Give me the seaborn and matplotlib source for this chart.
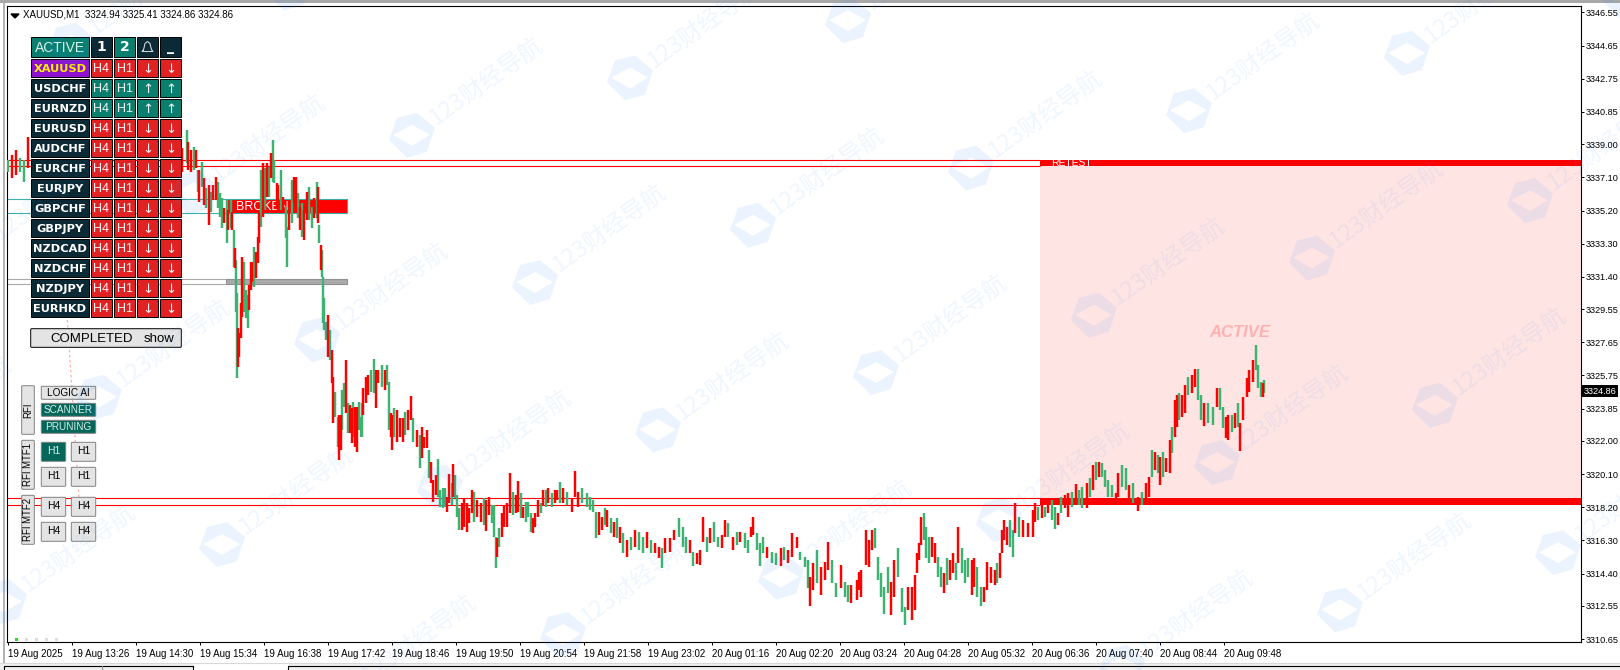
import matplotlib
matplotlib.use("Agg")
import matplotlib.pyplot as plt
from matplotlib.patches import Rectangle, FancyBboxPatch, PathPatch
from matplotlib.path import Path
import pandas as pd
import seaborn as sns

# minutes since the left edge of the chart, candle high / low, candle direction
bar_idx = [
    1, 5, 9, 13, 17, 21,
    175, 180, 181, 184, 187, 189, 191, 192, 195, 197,
    199, 202, 204, 206, 209, 211, 213, 215, 217, 220,
    221, 224, 225, 227, 228, 229, 230, 231, 232, 234,
    235, 237, 239, 241, 242, 244, 245, 247, 249, 251,
    252, 254, 256, 258, 260, 262, 264, 266, 267, 270,
    271, 274, 276, 279, 280, 282, 285, 287, 289, 291,
    293, 295, 297, 300, 302, 305, 307, 310, 311, 312,
    314, 315, 316, 317, 319, 321, 323, 325, 326, 328,
    331, 332, 334, 335, 337, 339, 341, 343, 345, 346,
    348, 350, 352, 354, 355, 356, 359, 361, 364, 367,
    369, 371, 375, 378, 380, 382, 384, 385, 387, 390,
    393, 396, 398, 401, 404, 406, 410, 413, 415, 417,
    420, 422, 424, 426, 429, 431, 433, 436, 438, 440,
    442, 445, 446, 448, 450, 452, 455, 457, 460, 462,
    465, 467, 470, 474, 477, 479, 482, 485, 487, 489,
    490, 492, 495, 497, 500, 503, 506, 509, 511, 514,
    516, 519, 521, 524, 526, 528, 531, 534, 536, 539,
    541, 545, 548, 550, 553, 556, 560, 565, 568, 571,
    575, 580, 583, 586, 589, 592, 595, 598, 600, 604,
    607, 610, 613, 616, 620, 624, 628, 632, 636, 640,
    644, 648, 652, 655, 658, 663, 667, 672, 676, 679,
    683, 686, 690, 693, 696, 700, 703, 707, 711, 715,
    718, 721, 726, 730, 733, 738, 741, 744, 746, 750,
    753, 756, 760, 765, 769, 774, 777, 781, 785, 790,
    793, 798, 801, 803, 806, 810, 814, 818, 821, 825,
    829, 834, 838, 841, 844, 850, 852, 854, 859, 862,
    865, 868, 871, 874, 877, 881, 884, 887, 891, 895,
    898, 901, 905, 908, 910, 912, 914, 917, 919, 922,
    925, 928, 931, 934, 937, 940, 943, 946, 949, 951,
    955, 958, 961, 965, 967, 970, 974, 977, 980, 984,
    988, 990, 993, 995, 997, 1000, 1003, 1006, 1008, 1012,
    1016, 1021, 1026, 1028, 1031, 1035, 1038, 1041, 1045, 1048,
    1051, 1054, 1058, 1061, 1065, 1069, 1072, 1075, 1080, 1083,
    1086, 1089, 1092, 1095, 1098, 1101, 1105, 1109, 1111, 1115,
    1119, 1122, 1126, 1131, 1135, 1139, 1142, 1145, 1148, 1151,
    1153, 1156, 1159, 1163, 1165, 1168, 1170, 1172, 1175, 1178,
    1181, 1185, 1188, 1191, 1194, 1197, 1201, 1206, 1210, 1213,
    1216, 1219, 1221, 1225, 1228, 1231, 1233, 1236, 1240, 1242,
    1246, 1249, 1251, 1254, 1256, 1257,
]
highs = [
    3338.10, 3338.39, 3338.67, 3338.22, 3338.10, 3339.42,
    3338.79, 3339.82, 3339.13, 3338.68, 3338.85, 3338.68, 3337.53, 3337.53, 3337.99, 3337.07,
    3336.50, 3336.67, 3336.27, 3336.67, 3337.13, 3336.84, 3336.21, 3335.92, 3335.35, 3335.81,
    3335.24, 3335.81, 3335.12, 3334.09, 3333.06, 3332.37, 3330.48, 3328.48, 3328.19, 3329.91,
    3332.54, 3332.26, 3330.65, 3330.37, 3330.94, 3332.26, 3332.26, 3333.12, 3332.83, 3333.69,
    3335.07, 3337.53, 3337.93, 3337.64, 3337.93, 3337.70, 3338.50, 3339.25, 3338.10, 3336.78,
    3336.67, 3337.53, 3335.98, 3335.41, 3334.26, 3335.07, 3336.95, 3337.13, 3337.13, 3336.21,
    3335.41, 3335.64, 3335.24, 3336.27, 3336.55, 3335.41, 3335.92, 3336.84, 3336.55, 3334.38,
    3333.23, 3332.95, 3331.40, 3330.19, 3328.82, 3329.22, 3328.36, 3327.22, 3325.67, 3324.81,
    3323.38, 3323.49, 3323.49, 3324.92, 3325.32, 3326.64, 3324.18, 3324.06, 3323.89, 3324.23,
    3323.95, 3323.95, 3324.23, 3323.38, 3324.18, 3325.04, 3325.67, 3325.78, 3326.07, 3326.70,
    3326.07, 3326.07, 3326.36, 3326.07, 3326.36, 3325.38, 3323.60, 3323.49, 3323.89, 3323.78,
    3323.32, 3323.32, 3323.66, 3323.78, 3324.58, 3323.32, 3322.63, 3322.34, 3322.80, 3322.23,
    3322.63, 3321.49, 3320.80, 3319.77, 3320.05, 3320.97, 3319.19, 3319.31, 3319.31, 3318.79,
    3320.11, 3319.59, 3320.68, 3320.05, 3318.91, 3318.16, 3318.45, 3318.73, 3318.45, 3318.16,
    3319.19, 3319.08, 3318.62, 3318.45, 3318.73, 3318.62, 3318.79, 3318.33, 3318.33, 3316.50,
    3316.44, 3317.01, 3317.87, 3318.33, 3318.45, 3320.17, 3319.08, 3318.91, 3319.71, 3319.02,
    3318.22, 3318.51, 3318.51, 3317.87, 3317.59, 3317.87, 3318.62, 3318.45, 3319.19, 3319.19,
    3319.31, 3319.02, 3319.19, 3319.19, 3319.65, 3319.31, 3319.08, 3318.73, 3320.28, 3319.08,
    3319.31, 3319.02, 3318.79, 3318.62, 3317.93, 3317.93, 3317.65, 3318.16, 3318.05, 3317.59,
    3317.36, 3317.59, 3317.07, 3316.73, 3316.33, 3316.50, 3316.90, 3316.79, 3316.50, 3316.79,
    3316.33, 3316.16, 3315.93, 3315.87, 3316.44, 3316.44, 3316.90, 3317.59, 3317.07, 3316.50,
    3316.33, 3315.64, 3315.58, 3315.76, 3317.65, 3316.50, 3317.01, 3317.36, 3316.50, 3316.61,
    3317.47, 3317.30, 3316.50, 3316.79, 3316.79, 3316.73, 3316.33, 3317.07, 3317.65, 3316.73,
    3316.16, 3316.50, 3315.93, 3315.64, 3315.58, 3315.87, 3315.93, 3315.76, 3316.73, 3316.50,
    3315.64, 3315.35, 3315.18, 3314.21, 3315.01, 3315.76, 3314.78, 3315.07, 3316.21, 3315.18,
    3313.86, 3314.90, 3313.92, 3313.75, 3313.75, 3314.04, 3314.49, 3314.61, 3316.90, 3316.33,
    3316.90, 3317.01, 3315.35, 3314.44, 3313.63, 3314.78, 3313.92, 3315.18, 3315.87, 3313.58,
    3312.49, 3313.63, 3313.63, 3314.32, 3315.58, 3316.16, 3317.65, 3317.87, 3317.07, 3316.50,
    3316.50, 3316.16, 3315.35, 3314.78, 3314.44, 3315.30, 3315.18, 3315.58, 3315.01, 3317.07,
    3315.87, 3315.18, 3315.30, 3315.18, 3315.30, 3314.78, 3313.63, 3313.63, 3315.07, 3314.78,
    3314.61, 3315.01, 3315.58, 3316.90, 3317.47, 3317.07, 3317.47, 3316.90, 3318.45, 3317.65,
    3317.47, 3317.30, 3318.05, 3318.45, 3318.22, 3318.45, 3318.22, 3318.62, 3318.62, 3318.22,
    3317.87, 3318.79, 3318.91, 3319.02, 3319.08, 3319.54, 3319.19, 3319.36, 3319.59, 3319.88,
    3320.63, 3320.80, 3320.80, 3320.74, 3320.34, 3319.77, 3319.48, 3319.02, 3320.17, 3320.63,
    3320.45, 3319.48, 3319.59, 3318.79, 3319.08, 3319.59, 3319.94, 3321.49, 3321.37, 3321.20,
    3321.08, 3321.37, 3321.03, 3322.06, 3322.80, 3324.35, 3324.64, 3324.75, 3324.64, 3325.21,
    3325.67, 3325.78, 3326.13, 3326.13, 3324.64, 3324.18, 3324.18, 3323.95, 3325.04, 3325.04,
    3323.95, 3323.38, 3323.49, 3323.49, 3323.60, 3324.18, 3323.03, 3324.52, 3325.61, 3326.07,
    3326.64, 3327.50, 3326.36, 3325.38, 3325.32, 3325.49,
]
lows = [
    3337.41, 3337.07, 3337.24, 3337.41, 3336.84, 3337.64,
    3337.41, 3337.93, 3337.53, 3337.41, 3337.53, 3337.64, 3336.27, 3335.69, 3336.55, 3335.52,
    3335.35, 3334.38, 3335.12, 3335.81, 3335.81, 3335.35, 3334.84, 3334.21, 3334.49, 3333.35,
    3334.09, 3334.21, 3334.09, 3331.97, 3331.91, 3329.39, 3325.61, 3326.24, 3326.81, 3327.90,
    3329.11, 3329.39, 3329.05, 3328.48, 3329.51, 3330.65, 3331.11, 3330.83, 3331.34, 3332.20,
    3333.35, 3334.26, 3334.84, 3335.24, 3335.98, 3335.98, 3337.07, 3336.84, 3336.78, 3335.41,
    3335.07, 3335.24, 3335.07, 3333.63, 3331.97, 3334.09, 3334.49, 3335.64, 3335.07, 3334.78,
    3334.09, 3333.69, 3333.52, 3334.66, 3334.66, 3334.21, 3334.78, 3334.78, 3334.49, 3333.35,
    3331.80, 3331.40, 3328.76, 3328.36, 3327.79, 3326.81, 3326.64, 3325.32, 3323.03, 3323.38,
    3321.66, 3320.91, 3321.49, 3322.63, 3323.95, 3323.60, 3322.46, 3322.46, 3321.89, 3322.23,
    3321.66, 3321.37, 3322.63, 3322.23, 3322.23, 3323.49, 3324.18, 3324.64, 3324.81, 3324.75,
    3323.89, 3325.32, 3325.09, 3324.92, 3325.21, 3322.63, 3322.23, 3321.49, 3322.23, 3321.94,
    3322.23, 3321.94, 3322.34, 3322.63, 3323.20, 3321.94, 3321.66, 3320.45, 3321.03, 3321.60,
    3321.60, 3319.88, 3319.59, 3318.51, 3318.91, 3318.79, 3318.22, 3318.16, 3318.22, 3317.93,
    3318.45, 3318.33, 3318.79, 3318.73, 3317.65, 3316.90, 3316.90, 3317.07, 3316.79, 3317.30,
    3317.87, 3317.36, 3317.65, 3317.36, 3317.19, 3316.84, 3317.76, 3317.30, 3316.50, 3314.72,
    3315.35, 3315.93, 3316.50, 3317.07, 3317.07, 3317.87, 3317.76, 3317.87, 3317.93, 3317.59,
    3317.59, 3317.36, 3317.65, 3316.79, 3316.73, 3317.07, 3317.65, 3317.87, 3318.33, 3318.22,
    3318.45, 3318.22, 3318.45, 3318.62, 3318.45, 3318.45, 3318.33, 3317.93, 3318.79, 3318.22,
    3318.45, 3318.22, 3318.05, 3317.93, 3316.44, 3316.61, 3316.90, 3317.19, 3317.07, 3316.73,
    3316.50, 3316.44, 3316.16, 3315.58, 3315.35, 3315.76, 3315.93, 3315.76, 3315.58, 3315.87,
    3315.58, 3315.58, 3315.30, 3314.72, 3315.58, 3315.64, 3316.33, 3316.50, 3315.93, 3315.58,
    3315.58, 3314.84, 3314.95, 3314.90, 3316.21, 3315.64, 3316.16, 3316.21, 3315.93, 3315.87,
    3316.50, 3316.50, 3315.76, 3316.04, 3316.21, 3315.87, 3315.58, 3316.50, 3316.61, 3315.76,
    3314.84, 3315.58, 3315.30, 3315.01, 3314.90, 3314.84, 3315.18, 3315.01, 3315.35, 3315.87,
    3315.18, 3314.78, 3313.58, 3312.55, 3313.46, 3313.86, 3313.18, 3314.04, 3314.61, 3313.86,
    3313.06, 3313.58, 3313.06, 3312.77, 3312.72, 3312.89, 3313.46, 3313.06, 3314.90, 3314.78,
    3315.76, 3315.87, 3314.04, 3313.06, 3312.09, 3313.29, 3312.03, 3313.06, 3314.21, 3312.20,
    3311.46, 3312.32, 3311.74, 3312.32, 3314.44, 3315.18, 3316.04, 3316.33, 3315.30, 3315.01,
    3315.35, 3315.01, 3314.21, 3313.63, 3313.29, 3313.75, 3314.04, 3314.44, 3314.04, 3315.01,
    3314.44, 3313.86, 3314.21, 3313.18, 3313.63, 3313.06, 3312.55, 3312.77, 3313.46, 3313.86,
    3313.75, 3313.86, 3314.15, 3315.58, 3316.33, 3316.04, 3315.93, 3315.35, 3316.73, 3316.50,
    3316.50, 3316.50, 3316.50, 3317.36, 3317.47, 3317.59, 3317.65, 3317.87, 3317.47, 3316.96,
    3317.19, 3317.87, 3318.16, 3317.65, 3318.22, 3318.45, 3318.33, 3318.16, 3318.16, 3318.79,
    3319.19, 3319.77, 3319.94, 3319.94, 3319.36, 3318.79, 3318.79, 3318.51, 3318.79, 3319.36,
    3319.19, 3318.62, 3318.45, 3317.99, 3318.33, 3318.33, 3318.79, 3319.94, 3320.34, 3320.17,
    3319.48, 3319.94, 3320.23, 3320.17, 3321.31, 3322.23, 3322.80, 3323.20, 3323.38, 3323.60,
    3324.64, 3324.75, 3325.09, 3324.35, 3323.20, 3322.86, 3323.03, 3322.92, 3323.95, 3323.78,
    3322.75, 3322.17, 3322.06, 3322.52, 3322.75, 3322.80, 3321.43, 3323.20, 3324.52, 3324.81,
    3325.38, 3326.07, 3325.04, 3324.52, 3324.52, 3324.75,
]
directions = list(
    "grrggr"
    "rgrrgrgrgr" "grgrrgggrg" "rgrgrggrrr" "rgggrrrgrr" "rgrgrgrggr"
    "rgrggrgrrg" "rgrrggrgrg" "rggggrgrrg" "grrggrgrrg" "rrgggrrrgg"
    "rrgrggrrgr" "rrgrrgrgrr" "rgrrrggggr" "rgrgggrrrr" "rgrrgrrggg"
    "rgrrrrgrrg" "rgggrrrgrg" "rgrrgrgrrr" "gggggrrgrg" "rgrgrgrggr"
    "grrgrrrggg" "rgrrrgrggr" "rgrgrggrrg" "ggrggrgrrr" "gggrrgrrrg"
    "grggrrrrrr" "rgggggrrgg" "grrrrrrggg" "rrggrgrrgr" "gggrrggrrr"
    "rgrrrrggrg" "rrrrgrgrgg" "rgrrgrggrg" "rgrggggrrg" "grgrgrrgrg"
    "rgrrgrrgrr" "grrggrggrg" "grrgrgrrrr"
    "rgggrg"
)

x_ticks = [1, 65, 129, 193, 257, 321, 385, 449, 513, 577,
           641, 705, 769, 833, 897, 961, 1025, 1089, 1153, 1217]
x_tick_labels = ["19 Aug 2025", "19 Aug 13:26", "19 Aug 14:30", "19 Aug 15:34", "19 Aug 16:38",
                 "19 Aug 17:42", "19 Aug 18:46", "19 Aug 19:50", "19 Aug 20:54", "19 Aug 21:58",
                 "19 Aug 23:02", "20 Aug 01:16", "20 Aug 02:20", "20 Aug 03:24", "20 Aug 04:28",
                 "20 Aug 05:32", "20 Aug 06:36", "20 Aug 07:40", "20 Aug 08:44", "20 Aug 09:48"]
y_ticks = [3346.55, 3344.65, 3342.75, 3340.85, 3339.00, 3337.10, 3335.20, 3333.30, 3331.40, 3329.55,
           3327.65, 3325.75, 3323.85, 3322.00, 3320.10, 3318.20, 3316.30, 3314.40, 3312.55, 3310.65]

ohlc_text = "XAUUSD,M1  3324.94 3325.41 3324.86 3324.86"
last_price = 3324.86

# price levels of the indicator boxes
retest_top = (3337.73, 3338.10)
retest_bottom = (3318.33, 3318.73)
broken_box = (3335.07, 3335.84)
grey_box = (3330.97, 3331.26)

# dashboard text
symbols = ["XAUUSD", "USDCHF", "EURNZD", "EURUSD", "AUDCHF", "EURCHF", "EURJPY",
           "GBPCHF", "GBPJPY", "NZDCAD", "NZDCHF", "NZDJPY", "EURHKD"]
symbol_up = [False, True, True, False, False, False, False,
             False, False, False, False, False, False]

RED = "#ff0000"
GREEN = "#3cb371"
CELL_RED = "#e22222"
TEAL = "#0a7f6e"
DARK_TEAL = "#05665a"
NAVY = "#0b2a35"
BTN = "#e4e4e4"
SANS = "Liberation Sans"

sns.set_style("white")
plt.rcParams["font.family"] = ["Liberation Sans", "DejaVu Sans"]

fig = plt.figure(figsize=(16.2, 6.7), dpi=100)
ax = fig.add_axes([7 / 1620, 28 / 670, 1574 / 1620, 636 / 670], zorder=1)
ax.set_xlim(0, 1574)
ax.set_ylim(3310.48, 3346.92)


def band(x0, x1, levels, **kw):
    ax.add_patch(Rectangle((x0, levels[0]), x1 - x0, levels[1] - levels[0], **kw))


# zone + level lines (behind the candles)
band(1033, 1574, (retest_bottom[1], retest_top[0]), facecolor="#ffe4e4", edgecolor="none", zorder=1)
band(1033, 1574, retest_top, facecolor=RED, edgecolor="none", zorder=1.5)
band(1033, 1574, retest_bottom, facecolor=RED, edgecolor="none", zorder=1.5)
for levels in (retest_top, retest_bottom):
    ax.hlines(levels, 0, 1033, color=RED, lw=0.8, zorder=1.5)
ax.hlines(broken_box, 0, 219, color="#3fb0b0", lw=0.8, zorder=1.5)
ax.hlines(grey_box, 0, 219, color="#aaaaaa", lw=0.8, zorder=1.5)
band(219, 339.5, broken_box, facecolor=RED, edgecolor="#3fa8a8", lw=0.8, zorder=1.6)
band(219, 339.5, grey_box, facecolor="#aaaaaa", edgecolor="#909090", lw=0.8, zorder=1.6)
ax.text(229, sum(broken_box) / 2 - 0.06, "BROKEN", color="white", fontsize=9, va="center", ha="left", zorder=1.7)
ax.text(1044, sum(retest_top) / 2, "RETEST", color="white", fontsize=7.5, va="center", ha="left", zorder=1.7)
ax.text(1202, 3328.2, "ACTIVE", color="#ffb0b0", fontsize=12, style="italic", weight="bold",
        va="center", ha="left", zorder=1.7)

# candles: one vertical line per bar, drawn by seaborn
candles = pd.DataFrame({"bar": bar_idx, "high": highs, "low": lows, "dir": directions})
long_df = candles.melt(id_vars=["bar", "dir"], value_vars=["high", "low"], value_name="price")
sns.lineplot(data=long_df, x="bar", y="price", hue="dir", units="bar", estimator=None,
             palette={"r": RED, "g": GREEN}, linewidth=1.75, legend=False, ax=ax, zorder=3,
             solid_capstyle="butt")

# axes furniture
ax.set_xlabel("")
ax.set_ylabel("")
ax.yaxis.tick_right()
ax.set_xticks(x_ticks)
ax.set_xticklabels(x_tick_labels, ha="left", fontsize=7)
ax.set_yticks(y_ticks)
ax.set_yticklabels([f"{v:.2f}" for v in y_ticks], fontsize=6.6)
ax.tick_params(axis="x", length=2.2, width=0.7, pad=3, color="black", labelcolor="black", bottom=True)
ax.tick_params(axis="y", length=2.2, width=0.7, pad=1.5, color="black", labelcolor="black", right=True)
for sp in ax.spines.values():
    sp.set_color("black")
    sp.set_linewidth(0.8)
ax.text(1.0015, last_price, f"{last_price:.2f}", transform=ax.get_yaxis_transform(), color="white",
        fontsize=6.6, va="center", ha="left", zorder=6, clip_on=False,
        bbox=dict(facecolor="black", edgecolor="none", pad=1.2))

# overlay in figure pixels for the terminal frame, dashboard and watermark
ui = fig.add_axes([0, 0, 1, 1], zorder=5)
ui.set_xlim(0, 1620)
ui.set_ylim(670, 0)
ui.axis("off")
ui.patch.set_alpha(0)


def box(x0, y0, x1, y1, face, edge="black", lw=0.7, z=3, round_px=0):
    if round_px:
        p = FancyBboxPatch((x0 + round_px, y0 + round_px), x1 - x0 - 2 * round_px, y1 - y0 - 2 * round_px,
                           boxstyle=f"round,pad={round_px}", facecolor=face, edgecolor=edge, lw=lw, zorder=z)
    else:
        p = Rectangle((x0, y0), x1 - x0, y1 - y0, facecolor=face, edgecolor=edge, lw=lw, zorder=z)
    ui.add_patch(p)


def label(x, y, s, color="black", size=8, font=SANS, weight="normal", rot=0, z=4):
    ui.text(x, y, s, color=color, fontsize=size, family=font, weight=weight, rotation=rot,
            ha="center", va="center", zorder=z)


# terminal frame
box(0, 0, 1620, 3, "#a8a8a8", "none", 0)
box(3, 3, 5, 663, "#b4b4b4", "none", 0)
box(0, 663, 1620, 670, "#f0f0f0", "none", 0)
ui.plot([0, 1620], [663, 663], color="#d8d8d8", lw=0.8, zorder=3.1)
ui.plot([4, 4, 193, 193], [670, 665.5, 665.5, 670], color="black", lw=0.8, zorder=3.1)
ui.plot([102, 102], [665.5, 670], color="#888888", lw=0.8, zorder=3.1)
box(193.5, 663.5, 288, 670, "white", "none", 0)
ui.plot([288, 288, 1620], [670, 665.5, 665.5], color="black", lw=0.8, zorder=3.1)

# chart title
ui.fill([11, 19, 15], [14, 14, 18], color="black", zorder=4)
ui.text(23, 14.5, ohlc_text, fontsize=7, family=SANS, color="black", ha="left", va="center", zorder=4)

# pale dotted trend line behind the buttons
ui.plot([67, 79], [315, 497], color="#ffb0b0", lw=0.9, ls=(0, (2, 2)), zorder=2)

# status dots
for i, c in enumerate(["#22e022", "#dddddd", "#dddddd", "#dddddd", "#dddddd"]):
    box(15 + 10 * i, 638, 18 + 10 * i, 641, c, "none", 0)

# dashboard header
col_x = [(90.7, 112), (113.7, 135.3), (137, 158.3), (160, 181.3)]
box(30.7, 37.3, 89.3, 56.7, TEAL)
label(60, 47.5, "ACTIVE", "#d8f0ea", 10)
for (x0, x1), face, txt in zip(col_x, [NAVY, TEAL, NAVY, NAVY], ["1", "2", "", "_"]):
    box(x0, 37.3, x1, 56.7, face)
    if txt:
        label((x0 + x1) / 2, 47, txt, "white", 10, "DejaVu Sans", "bold")
ui.plot([143, 144, 145, 147.5, 150, 151, 152, 153, 142, 143], [50.5, 48, 43.5, 41.5, 43.5, 48, 50.5, 51.5, 51.5, 50.5],
        color="#c8d4d8", lw=0.8, zorder=4)

# dashboard rows
for i, (sym, up) in enumerate(zip(symbols, symbol_up)):
    y0 = 58.7 + 20 * i
    y1 = y0 + 18.7
    yc = (y0 + y1) / 2 + 1
    is_main = i == 0
    box(30.7, y0, 89.3, y1, "#9010d0" if is_main else NAVY)
    label(60, yc, sym, "#f6f000" if is_main else "white", 8.2, "DejaVu Sans", "bold")
    face = TEAL if up else CELL_RED
    arrow = "\u2191" if up else "\u2193"
    for (x0, x1), txt in zip(col_x, ["H4", "H1", arrow, arrow]):
        box(x0, y0, x1, y1, face)
        if txt in ("H4", "H1"):
            label((x0 + x1) / 2, yc, txt, "#f4f4f4", 9)
        else:
            label((x0 + x1) / 2, yc, txt, "#f4f4f4", 9.5, "DejaVu Sans", "normal")

box(30.7, 328.7, 181.3, 347.3, BTN, round_px=1)
label(92, 338.5, "COMPLETED", "black", 9.5)
label(159, 338.5, "show", "black", 9.5)

# RFI buttons
for y0, y1, txt in [(385.7, 434.3, "RFI"), (440.3, 489.3, "RFI MTF1"), (495.3, 544.3, "RFI MTF2")]:
    box(21.7, y0, 34.3, y1, BTN, "#808080", round_px=1)
    label(28, (y0 + y1) / 2, txt, "black", 6.9, rot=90)
for y0, y1, txt, face, col in [(386.3, 399.3, "LOGIC AI", BTN, "black"),
                               (403.3, 416.3, "SCANNER", DARK_TEAL, "#d8f0ea"),
                               (420.3, 433.3, "PRUNING", DARK_TEAL, "#d8f0ea")]:
    box(41.3, y0, 95.7, y1, face, "#808080", round_px=1)
    label(68.5, (y0 + y1) / 2, txt, col, 7.2)
for y0, y1, txt in [(442.3, 461.3, "H1"), (467.3, 486.3, "H1"), (497.3, 516.3, "H4"), (522.3, 541.3, "H4")]:
    for x0, x1 in [(41.3, 65.7), (71.3, 95.7)]:
        active = y0 == 442.3 and x0 == 41.3
        box(x0, y0, x1, y1, DARK_TEAL if active else BTN, "#808080", round_px=1)
        label((x0 + x1) / 2, (y0 + y1) / 2 - 0.5, txt, "#d8f0ea" if active else "black", 7.5)

# repeated site watermark on top of everything
hex_pts = [(5, -22), (23, -7), (15, 17), (-5, 23), (-23, 5), (-15, -17), (5, -22)]
dia_pts = [(-19, 0), (0, 11), (18, 0), (0, -10), (-19, 0)]
WM = "#1e88f5"
for i in range(-4, 9):
    for j in range(-1, 5):
        cx = 630 + 218 * i - 95 * j
        cy = 77.5 - 57.3 * i + 204.6 * j
        if cx < -170 or cx > 1660 or cy < -40 or cy > 710:
            continue
        verts = [(cx + a, cy + b) for a, b in hex_pts] + [(cx + a, cy + b) for a, b in dia_pts]
        codes = [Path.MOVETO] + [Path.LINETO] * 5 + [Path.CLOSEPOLY] + [Path.MOVETO] + [Path.LINETO] * 3 + [Path.CLOSEPOLY]
        ui.add_patch(PathPatch(Path(verts, codes), facecolor=WM, edgecolor="none", alpha=0.085, zorder=8))
        ui.text(cx + 20, cy - 15, "123财经导航", fontsize=17, color=WM, alpha=0.075, rotation=35.5,
                rotation_mode="anchor", ha="left", va="center", zorder=8,
                family=["Noto Sans CJK SC", "DejaVu Sans"])

fig.savefig("out.png", dpi=100)
